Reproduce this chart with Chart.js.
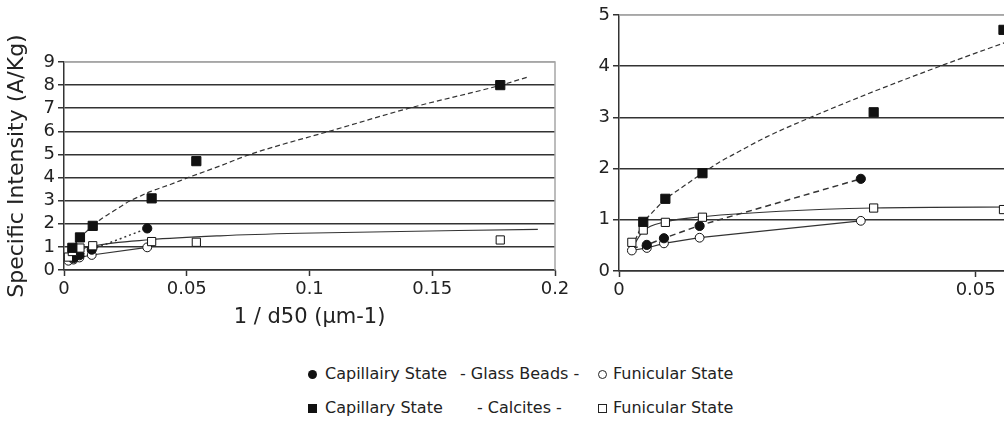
<!DOCTYPE html>
<html>
<head>
<meta charset="utf-8">
<script src="https://cdn.jsdelivr.net/npm/chart.js@4"></script>
<style>
  body { margin: 0; width: 1004px; height: 421px; overflow: hidden; background: #fff; font-family: 'DejaVu Sans', Verdana, sans-serif; color: #222; }
  #left { position: absolute; left: 0; top: 0; }
  #right { position: absolute; left: 570px; top: 0; }
  .lg { position: absolute; font-size: 16px; line-height: 20px; white-space: pre; }
  .mk { display: inline-block; box-sizing: border-box; }
</style>
</head>
<body>
<canvas id="left" width="600" height="335"></canvas>
<canvas id="right" width="520" height="335"></canvas>

<div class="lg" style="left:308px; top:364px;"><span class="mk" style="width:9px;height:9px;border-radius:50%;background:#111;"></span></div>
<div class="lg" style="left:325px; top:364px;">Capillairy State</div>
<div class="lg" style="left:460px; top:364px;">- Glass Beads -</div>
<div class="lg" style="left:598px; top:364px;"><span class="mk" style="width:9px;height:9px;border-radius:50%;border:1px solid #222;"></span></div>
<div class="lg" style="left:613px; top:364px;">Funicular State</div>

<div class="lg" style="left:308px; top:398px;"><span class="mk" style="width:9px;height:9px;background:#111;"></span></div>
<div class="lg" style="left:325px; top:398px;">Capillary State</div>
<div class="lg" style="left:477px; top:398px;">- Calcites -</div>
<div class="lg" style="left:598px; top:398px;"><span class="mk" style="width:9px;height:9px;border:1px solid #222;"></span></div>
<div class="lg" style="left:613px; top:398px;">Funicular State</div>

<script>
// measured points (x = 1/d50 in µm-1, y = specific intensity in A/Kg)
const glassCapX = [0.0039, 0.0063, 0.0113, 0.0339];
const glassCapY = [0.51, 0.64, 0.88, 1.80];
const glassFunX = [0.0018, 0.0039, 0.0063, 0.0113, 0.0339];
const glassFunY = [0.40, 0.45, 0.54, 0.65, 0.98];
const calCapX = [0.0034, 0.0065, 0.0117, 0.0357, 0.0539, 0.1777];
const calCapY = [0.96, 1.41, 1.91, 3.10, 4.71, 8.0];
const calFunX = [0.0018, 0.0034, 0.0065, 0.0117, 0.0357, 0.0539, 0.1777];
const calFunY = [0.56, 0.80, 0.95, 1.05, 1.23, 1.20, 1.30];

// trend lines
const calCapSegX = [0.0018, 0.0034, 0.0065, 0.0117];
const calCapSegY = [0.45, 0.96, 1.41, 1.91];
const leftCalCapCurveX = [0.0117, 0.015, 0.019, 0.023, 0.027, 0.0315, 0.0351, 0.0433, 0.0506, 0.0635, 0.0757, 0.0892, 0.108, 0.1405, 0.178, 0.1886];
const leftCalCapCurveY = [1.91, 2.2, 2.47, 2.74, 3.0, 3.22, 3.39, 3.7, 4.0, 4.5, 5.0, 5.44, 6.0, 7.0, 8.0, 8.34];
const leftCalFunCurveX = [0.0018, 0.0034, 0.0065, 0.0118, 0.0351, 0.0635, 0.096, 0.193];
const leftCalFunCurveY = [0.55, 0.72, 0.88, 1.04, 1.31, 1.48, 1.59, 1.76];
const rightCalCapCurveX = [0.0117, 0.014, 0.0165, 0.0207, 0.0272, 0.0347, 0.045, 0.0539, 0.056];
const rightCalCapCurveY = [1.91, 2.12, 2.31, 2.62, 3.02, 3.45, 4.0, 4.45, 4.55];
const rightCalFunCurveX = [0.0018, 0.0034, 0.0065, 0.0117, 0.0357, 0.056];
const rightCalFunCurveY = [0.44, 0.78, 0.96, 1.06, 1.23, 1.25];
const rightGlassCapX = [0.0018, 0.0039, 0.0063, 0.0113, 0.0339];
const rightGlassCapY = [0.44, 0.51, 0.64, 0.89, 1.80];

// tick labels
const leftXTicks = [0, 0.05, 0.1, 0.15, 0.2];
const leftYTicks = [0, 1, 2, 3, 4, 5, 6, 7, 8, 9];
const rightXTicks = [0, 0.05];
const rightYTicks = [0, 1, 2, 3, 4, 5];

const FONT = 'DejaVu Sans';
const INK = '#222';
const FRAME = '#a6a6a6';

function pts(xs, ys) {
    return xs.map((x, i) => ({ x: x, y: ys[i] }));
}

function markers(xs, ys, style, filled, r) {
    return {
        data: pts(xs, ys), showLine: false, order: 0,
        pointStyle: style, pointRadius: r, pointHoverRadius: r,
        pointBackgroundColor: filled ? '#111' : '#fff',
        pointBorderColor: '#111', pointBorderWidth: 1
    };
}

function trend(xs, ys, dash, smooth, width) {
    return {
        data: pts(xs, ys), showLine: true, order: 1, pointRadius: 0,
        borderColor: '#333', borderWidth: width || 1.2, borderDash: dash,
        cubicInterpolationMode: smooth ? 'monotone' : 'default', tension: 0
    };
}

const framePlugin = {
    id: 'frame',
    beforeDatasetsDraw(chart) {
        const { ctx, chartArea: a } = chart;
        ctx.save();
        ctx.strokeStyle = FRAME;
        ctx.lineWidth = 1.5;
        ctx.beginPath();
        ctx.moveTo(a.left, a.top);
        ctx.lineTo(a.right, a.top);
        ctx.lineTo(a.right, a.bottom);
        ctx.stroke();
        ctx.restore();
    }
};

function fmt(v) {
    return String(+v.toFixed(3));
}

function makeChart(id, cfg) {
    return new Chart(document.getElementById(id), {
        type: 'scatter',
        data: { datasets: cfg.datasets },
        plugins: [framePlugin],
        options: {
            responsive: false,
            animation: false,
            events: [],
            layout: { padding: cfg.padding },
            plugins: { legend: { display: false }, tooltip: { enabled: false } },
            scales: {
                x: {
                    type: 'linear', min: 0, max: cfg.xMax,
                    afterBuildTicks: s => { s.ticks = cfg.xTicks.map(v => ({ value: v })); },
                    afterFit: s => { s.height = cfg.xHeight; },
                    ticks: { font: { family: FONT, size: 18 }, color: INK, padding: 3, callback: fmt, maxRotation: 0, autoSkip: false },
                    grid: { drawOnChartArea: false, drawTicks: true, tickLength: 6, tickColor: '#333', tickWidth: 1.5 },
                    border: { color: '#333', width: 1.5 },
                    title: cfg.xTitle ? { display: true, text: cfg.xTitle, font: { family: FONT, size: 21 }, color: INK, padding: { top: 0, bottom: 5 } } : { display: false }
                },
                y: {
                    type: 'linear', min: 0, max: cfg.yMax,
                    afterBuildTicks: s => { s.ticks = cfg.yTicks.map(v => ({ value: v })); },
                    afterFit: s => { s.width = cfg.yWidth; },
                    ticks: { font: { family: FONT, size: 18 }, color: INK, padding: 3, callback: fmt, autoSkip: false },
                    grid: {
                        color: c => (c.tick && c.tick.value === cfg.yMax) ? FRAME : '#333',
                        lineWidth: 1.5, tickLength: 6, tickColor: '#333', tickWidth: 1.5
                    },
                    border: { color: '#333', width: 1.5 },
                    title: cfg.yTitle ? { display: true, text: cfg.yTitle, font: { family: FONT, size: 22 }, color: INK, padding: { top: 4, bottom: 0 } } : { display: false }
                }
            }
        }
    });
}

makeChart('left', {
    xMax: 0.2, yMax: 9, xTicks: leftXTicks, yTicks: leftYTicks,
    xHeight: 65, yWidth: 64,
    padding: { top: 62, right: 45, bottom: 0, left: 0 },
    xTitle: '1 / d50 (µm-1)', yTitle: 'Specific Intensity (A/Kg)',
    datasets: [
        markers(calCapX, calCapY, 'rect', true, 6.5),
        markers(calFunX, calFunY, 'rect', false, 5.8),
        markers(glassCapX, glassCapY, 'circle', true, 4.6),
        markers(glassFunX, glassFunY, 'circle', false, 4.4),
        trend(calCapSegX, calCapSegY, [5, 3], false),
        trend(leftCalCapCurveX, leftCalCapCurveY, [5, 3], true),
        trend(leftCalFunCurveX, leftCalFunCurveY, [], true),
        trend(glassCapX, glassCapY, [2, 3], false, 1.5),
        trend(glassFunX, glassFunY, [], false)
    ]
});

makeChart('right', {
    xMax: 0.06, yMax: 5, xTicks: rightXTicks, yTicks: rightYTicks,
    xHeight: 64, yWidth: 49,
    padding: { top: 15, right: 43, bottom: 0, left: 0 },
    datasets: [
        markers(calCapX, calCapY, 'rect', true, 6.5),
        markers(calFunX, calFunY, 'rect', false, 5.8),
        markers(glassCapX, glassCapY, 'circle', true, 4.6),
        markers(glassFunX, glassFunY, 'circle', false, 4.4),
        trend(calCapSegX, calCapSegY, [5, 3], false),
        trend(rightCalCapCurveX, rightCalCapCurveY, [5, 3], true),
        trend(rightCalFunCurveX, rightCalFunCurveY, [], true),
        trend(rightGlassCapX, rightGlassCapY, [6, 4], false, 1.5),
        trend(glassFunX, glassFunY, [], false)
    ]
});
</script>
</body>
</html>
